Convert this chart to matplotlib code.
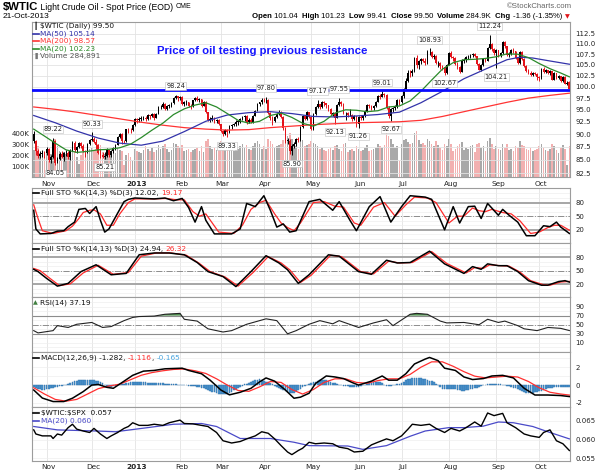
import numpy as np
import pandas as pd
import matplotlib
matplotlib.use("Agg")
import matplotlib.pyplot as plt
import matplotlib.transforms as mtransforms
from matplotlib.ticker import FixedLocator, FixedFormatter, NullLocator

plt.rcParams['font.family'] = ['DejaVu Sans']

# ---------------- data ----------------
holidays = ['2012-10-29', '2012-10-30', '2012-11-22', '2012-12-25', '2013-01-01',
            '2013-01-21', '2013-02-18', '2013-03-29', '2013-05-27', '2013-07-04', '2013-09-02']

opens = [90.0, 88.7, 86.7, 85.7, 86.1, 86.3,
         86.2, 87.1, 84.9, 85.6, 88.7, 84.4, 85.1, 86.1, 85.6, 86.3, 86.3, 85.5, 86.7, 88.3, 86.8, 87.4, 88.3, 87.7, 86.7, 86.5, 88.1,
         88.9, 89.1, 88.5, 87.9, 86.3, 86.0, 85.6, 85.8, 86.8, 85.9, 86.7, 87.2, 87.9, 89.5, 90.1, 88.7, 88.6, 91.0, 90.9, 90.8,
         91.8, 93.1, 92.9, 93.1, 93.2, 93.2, 93.1, 93.8, 93.6, 94.1, 93.3, 94.2, 95.5, 95.6, 96.2, 95.2, 95.9, 95.9, 96.4, 97.6, 97.9,
         97.5, 97.8, 96.2, 96.6, 96.6, 95.8, 95.7, 97.0, 97.5, 97.0, 97.3, 95.9, 96.7, 94.5, 92.8, 93.1, 93.1, 92.6, 92.8,
         92.0, 90.7, 90.1, 90.8, 90.4, 91.6, 91.9, 92.1, 92.5, 92.5, 93.0, 93.5, 93.7, 92.4, 92.9, 92.5, 93.7, 94.8, 96.3, 96.6,
         97.2, 97.1, 97.2, 94.4, 93.3, 92.7, 93.4, 94.2, 94.6, 93.5, 91.3, 88.7, 88.7, 86.7, 87.7, 88.0, 89.0, 88.8, 91.4, 93.6, 93.0, 94.5,
         93.5, 91.0, 94.2, 95.6, 96.2, 95.6, 96.6, 96.4, 96.0, 95.2, 94.2, 94.3, 93.3, 96.0, 96.7, 96.2, 94.3, 94.3, 93.8, 94.0, 93.1, 93.6,
         92.0, 93.5, 93.3, 93.7, 94.8, 96.0, 95.8, 95.4, 95.9, 96.7, 97.9, 97.8, 98.4, 98.2, 95.4, 93.7, 95.2, 95.3, 95.5, 97.1,
         96.6, 98.0, 99.6, 101.2, 103.2, 103.1, 103.5, 106.5, 104.9, 105.9, 106.3, 106.0, 105.4, 108.0, 108.1, 106.9, 107.2, 105.4, 105.5, 104.7, 104.6, 103.1,
         105.0, 107.9, 106.9, 106.6, 105.3, 104.4, 103.4, 106.0, 106.1, 106.8, 106.9, 107.3, 107.5, 107.1, 105.1, 103.9, 105.0, 106.4, 105.9, 109.0, 110.1, 108.8,
         107.7, 108.5, 107.2, 107.7, 110.5, 109.5, 107.4, 107.6, 108.6, 108.2, 106.6, 105.4, 108.1, 106.4, 104.7, 103.6, 103.1, 102.7, 103.0, 102.9,
         102.3, 101.9, 104.1, 103.3, 103.8, 103.0, 103.5, 101.6, 103.0, 102.0, 102.4, 101.2, 102.3, 100.7, 101.04]

highs = [90.6, 88.9, 87.0, 86.6, 86.9, 86.7,
         87.4, 87.3, 85.9, 89.22, 88.9, 85.6, 86.5, 86.6, 86.5, 86.9, 86.7, 87.0, 88.7, 88.6, 87.7, 88.4, 88.4, 88.1, 86.9, 88.3, 89.0,
         90.33, 89.5, 89.0, 88.0, 87.0, 86.4, 86.4, 87.2, 86.9, 86.9, 87.4, 88.0, 89.7, 90.3, 90.2, 88.9, 91.1, 91.3, 91.2, 92.0,
         93.3, 93.3, 93.4, 93.6, 93.6, 93.6, 94.1, 94.0, 94.4, 94.3, 94.4, 95.7, 96.0, 96.6, 96.4, 96.1, 96.2, 96.6, 97.8, 98.24, 98.0,
         98.0, 97.9, 96.8, 97.0, 96.7, 96.2, 97.1, 97.8, 97.9, 97.5, 97.4, 96.9, 96.9, 94.6, 93.4, 93.8, 93.4, 93.1, 93.0,
         92.1, 90.8, 91.0, 91.1, 91.8, 92.1, 92.3, 92.8, 92.8, 93.3, 93.7, 94.0, 93.8, 93.2, 93.2, 93.8, 95.0, 96.4, 96.7, 97.6,
         97.6, 97.80, 97.3, 94.6, 93.6, 93.6, 94.4, 94.9, 94.7, 93.6, 91.4, 89.3, 89.0, 88.0, 88.4, 89.2, 89.4, 91.6, 93.8, 93.7, 94.7, 94.6,
         93.6, 94.4, 95.9, 97.17, 96.3, 96.8, 96.9, 96.5, 96.1, 95.3, 94.6, 94.4, 96.2, 97.55, 96.9, 96.4, 94.6, 94.5, 95.2, 94.1, 93.9, 93.7,
         93.6, 93.8, 94.0, 94.9, 96.2, 96.3, 96.0, 96.1, 96.8, 98.1, 98.5, 99.01, 98.7, 98.3, 95.7, 95.4, 95.6, 96.0, 97.3, 97.4,
         98.1, 99.8, 101.9, 103.9, 103.7, 104.1, 106.8, 107.3, 106.1, 106.5, 106.6, 106.7, 108.5, 108.93, 108.3, 107.6, 107.4, 105.9, 105.7, 105.0, 104.7, 105.3,
         108.0, 108.2, 107.2, 106.9, 105.6, 104.7, 106.3, 106.5, 107.0, 107.4, 107.6, 107.9, 107.8, 107.2, 105.4, 105.2, 106.6, 106.7, 109.3, 112.24, 110.3, 109.0,
         108.8, 108.6, 108.1, 110.7, 110.6, 109.6, 108.0, 108.8, 108.9, 108.4, 106.8, 108.3, 108.2, 106.6, 104.9, 104.0, 103.6, 103.4, 103.4, 103.0,
         102.5, 104.3, 104.5, 104.0, 103.9, 103.7, 103.6, 103.3, 103.2, 102.6, 102.5, 102.5, 102.4, 101.2, 101.23]

lows = [88.3, 85.9, 85.4, 85.3, 85.6, 85.3,
        85.9, 84.6, 84.3, 85.4, 84.05, 84.3, 84.9, 85.3, 84.7, 85.7, 85.1, 84.9, 86.6, 86.5, 86.3, 87.2, 87.2, 86.5, 85.6, 86.3, 87.9,
        88.6, 88.2, 87.1, 86.1, 85.4, 85.3, 85.21, 85.6, 85.6, 85.5, 86.3, 86.9, 87.8, 89.2, 88.1, 88.2, 88.5, 90.3, 90.2, 90.6,
        91.7, 92.2, 92.5, 92.6, 92.8, 92.6, 92.9, 93.0, 93.4, 92.9, 93.2, 94.1, 95.1, 95.4, 94.9, 94.9, 95.3, 95.5, 96.2, 97.3, 96.9,
        97.2, 96.0, 95.9, 96.1, 95.6, 95.1, 95.5, 96.8, 96.8, 96.7, 95.6, 95.7, 94.3, 92.6, 92.4, 92.7, 92.3, 92.3, 91.8,
        90.4, 89.6, 89.9, 89.33, 90.3, 91.0, 91.6, 91.7, 91.9, 92.3, 92.8, 92.6, 92.1, 92.2, 92.2, 92.3, 93.6, 94.7, 95.8, 96.3,
        96.7, 96.5, 94.2, 92.9, 91.9, 92.4, 93.2, 93.8, 93.3, 90.8, 88.3, 88.0, 86.1, 85.90, 87.3, 87.6, 88.4, 88.7, 91.3, 92.8, 92.9, 93.3,
        90.8, 90.9, 94.0, 95.3, 95.2, 95.3, 95.8, 95.3, 94.8, 93.9, 93.7, 92.13, 93.2, 95.8, 95.8, 94.1, 92.8, 93.4, 93.6, 92.7, 92.8, 91.5,
        91.26, 92.9, 92.8, 93.5, 94.6, 95.3, 94.9, 95.0, 95.5, 96.6, 97.3, 97.7, 97.8, 95.1, 93.2, 92.67, 94.6, 94.9, 95.4, 96.1,
        96.4, 97.6, 99.4, 101.0, 102.3, 102.4, 103.3, 104.3, 104.0, 105.2, 105.6, 105.0, 105.3, 107.4, 106.6, 106.3, 105.1, 104.5, 104.1, 103.9, 102.67, 102.9,
        104.9, 106.5, 106.0, 104.9, 104.1, 103.0, 103.3, 105.4, 105.7, 106.3, 106.5, 106.9, 106.8, 104.9, 103.7, 103.6, 104.8, 105.6, 105.8, 108.8, 108.4, 107.3,
        104.21, 106.9, 106.8, 107.5, 109.1, 107.1, 106.9, 107.4, 107.8, 106.3, 105.2, 105.2, 106.1, 104.5, 103.4, 102.9, 102.5, 102.4, 102.6, 101.6,
        101.3, 101.8, 103.1, 103.0, 102.8, 102.6, 101.4, 101.5, 101.8, 101.7, 101.0, 101.1, 100.6, 100.5, 99.41]

closes = [88.7, 86.7, 85.7, 86.1, 86.3, 86.2,
          87.1, 84.9, 85.6, 88.7, 84.4, 85.1, 86.1, 85.6, 86.3, 86.3, 85.5, 86.7, 88.3, 86.8, 87.4, 88.3, 87.7, 86.7, 86.5, 88.1, 88.9,
          89.1, 88.5, 87.9, 86.3, 86.0, 85.6, 85.8, 86.8, 85.9, 86.7, 87.2, 87.9, 89.5, 90.1, 88.7, 88.6, 91.0, 90.9, 90.8, 91.8,
          93.1, 92.9, 93.1, 93.2, 93.2, 93.1, 93.8, 93.6, 94.1, 93.3, 94.2, 95.5, 95.6, 96.2, 95.2, 95.9, 95.9, 96.4, 97.6, 97.9, 97.5,
          97.8, 96.2, 96.6, 96.6, 95.8, 95.7, 97.0, 97.5, 97.0, 97.3, 95.9, 96.7, 94.5, 92.8, 93.1, 93.1, 92.6, 92.8, 92.0,
          90.7, 90.1, 90.8, 90.4, 91.6, 91.9, 92.1, 92.5, 92.5, 93.0, 93.5, 93.7, 92.4, 92.9, 92.5, 93.7, 94.8, 96.3, 96.6, 97.2,
          97.1, 97.2, 94.4, 93.3, 92.7, 93.4, 94.2, 94.6, 93.5, 91.3, 88.7, 88.7, 86.7, 87.7, 88.0, 89.0, 88.8, 91.4, 93.6, 93.0, 94.5, 93.5,
          91.0, 94.2, 95.6, 96.2, 95.6, 96.6, 96.4, 96.0, 95.2, 94.2, 94.3, 93.3, 96.0, 96.7, 96.2, 94.3, 94.3, 93.8, 94.0, 93.1, 93.6, 92.0,
          93.5, 93.3, 93.7, 94.8, 96.0, 95.8, 95.4, 95.9, 96.7, 97.9, 97.8, 98.4, 98.2, 95.4, 93.7, 95.2, 95.3, 95.5, 97.1, 96.6,
          98.0, 99.6, 101.2, 103.2, 103.1, 103.5, 106.5, 104.9, 105.9, 106.3, 106.0, 105.4, 108.0, 108.1, 106.9, 107.2, 105.4, 105.5, 104.7, 104.6, 103.1, 105.0,
          107.9, 106.9, 106.6, 105.3, 104.4, 103.4, 106.0, 106.1, 106.8, 106.9, 107.3, 107.5, 107.1, 105.1, 103.9, 105.0, 106.4, 105.9, 109.0, 110.1, 108.8, 107.7,
          108.5, 107.2, 107.7, 110.5, 109.5, 107.4, 107.6, 108.6, 108.2, 106.6, 105.4, 108.1, 106.4, 104.7, 103.6, 103.1, 102.7, 103.0, 102.9, 102.3,
          101.9, 104.1, 103.3, 103.8, 103.0, 103.5, 101.6, 103.0, 102.0, 102.4, 101.2, 102.3, 100.7, 100.86, 99.5]

volume_k = [250, 300, 280, 220, 200, 180,
            230, 260, 210, 300, 350, 280, 240, 200, 230, 210, 220, 190, 250, 240, 180, 120, 200, 230, 210, 240, 260,
            270, 250, 260, 300, 290, 230, 210, 250, 240, 200, 230, 220, 270, 250, 240, 110, 200, 220, 180, 150,
            260, 240, 230, 220, 250, 280, 260, 240, 270, 230, 250, 290, 260, 280, 300, 260, 230, 250, 310, 300, 280,
            270, 290, 240, 250, 260, 230, 250, 260, 270, 240, 280, 230, 330, 350, 280, 260, 270, 250, 300,
            330, 300, 280, 260, 290, 270, 240, 250, 260, 280, 300, 270, 290, 260, 250, 280, 310, 330, 300, 260,
            280, 260, 350, 330, 300, 270, 280, 290, 300, 340, 420, 380, 400, 350, 300, 280, 260, 330, 340, 280, 290, 300,
            330, 310, 300, 280, 260, 270, 250, 240, 260, 270, 250, 280, 290, 260, 240, 300, 310, 230, 250, 260, 240, 280,
            260, 240, 250, 270, 290, 240, 250, 260, 270, 300, 280, 270, 290, 420, 380, 350, 300, 270, 280, 150,
            300, 340, 350, 320, 300, 310, 400, 420, 340, 300, 310, 290, 350, 330, 300, 280, 330, 290, 270, 250, 300, 280,
            350, 300, 240, 260, 280, 300, 320, 250, 270, 260, 280, 290, 230, 300, 310, 270, 280, 240, 330, 360, 300, 260,
            280, 260, 250, 300, 270, 300, 250, 260, 240, 280, 270, 330, 290, 280, 260, 250, 270, 240, 250, 260,
            280, 300, 270, 250, 240, 260, 300, 280, 250, 220, 270, 290, 260, 110, 284.891]

# moving averages (readings at trading-day index)
ma20_days = list(range(0, 250, 5)) + [249]
ma20_vals = [91.0, 89.6, 88.2, 86.9, 86.4, 86.6, 86.9, 87.0, 87.3, 88.0,
             89.3, 90.8, 92.2, 94.0, 95.2, 96.0, 96.5, 95.6, 94.2, 92.8,
             92.2, 92.6, 93.8, 94.3, 93.4, 92.2, 91.6, 92.6, 94.3, 95.0,
             94.9, 94.6, 94.8, 95.6, 95.8, 96.9, 99.0, 101.5, 104.0, 105.5,
             106.2, 106.3, 106.5, 106.9, 107.6, 107.5, 106.7, 105.3, 104.1, 103.1, 102.23]
ma50_days = [0, 10, 20, 30, 40, 50, 60, 70, 80, 90, 100, 110, 120, 130, 140, 150, 160, 170, 180, 190, 200, 210, 220, 226, 232, 240, 249]
ma50_vals = [93.8, 92.3, 90.6, 89.2, 88.2, 87.8, 88.6, 90.5, 92.6, 93.9, 94.4, 94.6, 94.2, 93.6, 93.5, 93.7, 94.0, 94.5, 96.5, 99.0, 101.8, 104.0, 106.2, 106.8, 106.6, 105.9, 105.14]
ma200_days = list(range(0, 250, 10)) + [249]
ma200_vals = [95.6, 95.1, 94.5, 93.8, 93.1, 92.4, 91.8, 91.3, 91.0, 90.8, 90.9, 91.3, 91.6, 91.9, 92.1, 92.3, 92.4, 92.5, 92.8, 93.6, 94.6, 95.6, 96.6, 97.5, 98.1, 98.57]
resistance = 99.25

peak_days = [9, 10, 27, 33, 66, 90, 108, 120, 132, 140, 142, 151, 162, 166, 184, 191, 212, 215]
peak_vals = [89.22, 84.05, 90.33, 85.21, 98.24, 89.33, 97.80, 85.90, 97.17, 92.13, 97.55, 91.26, 99.01, 92.67, 108.93, 102.67, 112.24, 104.21]
peak_up = [1, 0, 1, 0, 1, 0, 1, 0, 1, 0, 1, 0, 1, 0, 1, 0, 1, 0]

sto1_k_days = [0, 1, 3, 8, 11, 14, 16, 19, 21, 24, 26, 29, 31, 33, 35, 38, 42, 44, 47, 56, 61, 65, 69, 72, 75, 78, 80, 84, 92, 96,
               99, 103, 107, 110, 113, 116, 119, 122, 128, 133, 139, 142, 147, 150, 156, 161, 166, 171, 175, 182, 185, 191, 195, 198,
               202, 205, 208, 211, 216, 218, 221, 225, 229, 233, 237, 240, 243, 245, 249]
sto1_k_vals = [63, 22, 11, 12, 17, 18, 27, 37, 65, 67, 56, 71, 41, 15, 22, 48, 82, 87, 90, 88, 90, 84, 89, 69, 37, 71, 41, 11, 11, 22,
               78, 71, 95, 63, 26, 33, 15, 18, 82, 87, 63, 82, 41, 18, 71, 93, 37, 71, 95, 92, 87, 20, 71, 35,
               71, 72, 45, 78, 52, 65, 52, 37, 7, 7, 29, 27, 37, 26, 12.02]
sto1_d_days = [0, 2, 4, 9, 12, 15, 18, 21, 23, 26, 28, 31, 34, 37, 40, 44, 47, 56, 62, 66, 70, 74, 77, 80, 83, 86, 93, 97, 101, 105,
               108, 112, 115, 118, 121, 124, 130, 135, 140, 144, 149, 152, 158, 163, 168, 173, 177, 183, 187, 193, 197, 200, 204, 207,
               210, 213, 218, 222, 226, 231, 235, 239, 242, 245, 249]
sto1_d_vals = [75, 45, 18, 12, 15, 18, 28, 45, 58, 63, 64, 55, 30, 30, 55, 80, 88, 88, 89, 86, 86, 60, 50, 55, 35, 15, 12, 30, 65, 80,
               85, 55, 35, 25, 18, 35, 80, 82, 72, 70, 35, 30, 70, 80, 50, 75, 92, 90, 80, 35, 50, 50, 68, 62,
               60, 65, 58, 55, 40, 12, 15, 25, 30, 30, 19.17]

sto2_k_days = [0, 2, 6, 11, 16, 22, 29, 36, 43, 49, 56, 63, 70, 76, 81, 88, 94, 101, 108, 114, 118, 123, 128, 137, 142, 151, 157, 164,
               169, 175, 184, 191, 200, 204, 208, 211, 216, 220, 225, 230, 236, 239, 244, 247, 249]
sto2_k_vals = [53, 48, 33, 16, 22, 48, 63, 41, 44, 85, 89, 89, 85, 68, 48, 37, 15, 48, 83, 67, 52, 22, 41, 85, 82, 48, 42, 73,
               67, 68, 93, 65, 44, 59, 53, 65, 61, 61, 48, 28, 18, 18, 26, 28, 24.94]
sto2_d_days = [0, 3, 7, 12, 17, 23, 30, 37, 44, 50, 57, 64, 71, 77, 82, 89, 95, 102, 109, 115, 119, 124, 129, 138, 143, 152, 158, 165,
               170, 176, 185, 192, 201, 205, 209, 212, 217, 221, 226, 231, 237, 240, 245, 249]
sto2_d_vals = [55, 50, 35, 17, 21, 45, 62, 42, 46, 82, 89, 89, 84, 66, 48, 36, 16, 46, 81, 67, 52, 24, 40, 84, 81, 48, 43, 71,
               67, 68, 92, 66, 45, 57, 55, 63, 61, 60, 47, 28, 19, 18, 25, 26.32]

rsi_days = [0, 2, 9, 11, 16, 20, 27, 32, 36, 42, 46, 49, 56, 61, 68, 70, 76, 81, 88, 92, 99, 108, 113, 118, 122, 128, 133, 139, 142,
            151, 158, 164, 167, 175, 178, 183, 189, 192, 200, 207, 211, 216, 219, 225, 228, 234, 239, 245, 249]
rsi_vals = [37, 32, 37, 48, 44, 51, 55, 44, 46, 59, 66, 68, 69, 73, 75, 62, 58, 41, 34, 37, 51, 63, 59, 30, 37, 51, 59, 52, 59,
            44, 54, 61, 48, 73, 75, 73, 58, 54, 55, 50, 62, 55, 58, 48, 41, 37, 44, 42, 37.19]

macd_days = [0, 4, 9, 14, 18, 23, 27, 30, 34, 37, 42, 46, 51, 56, 61, 69, 72, 78, 82, 87, 91, 96, 101, 105, 108, 112, 117, 121, 124,
             128, 131, 136, 140, 144, 148, 151, 157, 162, 165, 169, 173, 177, 182, 184, 188, 191, 196, 200, 204, 209, 213, 218, 223,
             228, 233, 239, 245, 249]
macd_vals = [-0.55, -1.45, -1.84, -1.84, -1.47, -0.73, 0.0, 0.07, -0.25, -0.36, 0.44, 1.09, 1.56, 1.64, 1.82, 1.89, 1.64, 1.27, 0.55,
             -0.55, -1.09, -0.8, -0.36, 0.36, 0.8, 0.44, -0.55, -1.47, -1.35, -0.91, 0.18, 1.02, 0.91, 0.73, 0.29, 0.0, 0.44, 1.02,
             0.55, 0.55, 1.27, 2.36, 2.91, 3.09, 2.73, 1.89, 1.64, 0.91, 0.62, 0.73, 1.02, 1.09, 0.8, -0.36, -1.11, -1.11, -1.17, -1.282]
signal_days = list(range(0, 250, 5)) + [249]
signal_vals = [-0.3, -1.0, -1.6, -1.8, -1.6, -1.0, -0.4, -0.1, 0.1, 0.6,
               1.1, 1.4, 1.6, 1.75, 1.8, 1.6, 1.3, 0.7, 0.0, -0.6,
               -0.7, -0.2, 0.4, 0.3, -0.5, -1.0, -0.5, 0.3, 0.7, 0.7,
               0.3, 0.2, 0.5, 0.7, 0.7, 1.2, 2.0, 2.6, 2.6, 2.1,
               1.5, 1.0, 0.8, 0.9, 1.0, 0.9, 0.4, -0.3, -0.8, -1.0, -1.116]
macd_hist = [-0.25, -0.32, -0.4, -0.46, -0.5, -0.5, -0.48, -0.42, -0.36, -0.3,
             -0.24, -0.18, -0.12, -0.06, 0.0, 0.0, 0.1, 0.22, 0.32, 0.42,
             0.5, 0.55, 0.58, 0.6, 0.6, 0.6, 0.58, 0.55, 0.52, 0.5,
             0.47, 0.35, 0.2, 0.05, -0.1, -0.2, -0.18, -0.12, -0.05, 0.0,
             0.05, 0.1, 0.16, 0.22, 0.27, 0.3, 0.33, 0.36, 0.38, 0.4,
             0.4, 0.37, 0.32, 0.28, 0.25, 0.22, 0.21, 0.2, 0.19, 0.18,
             0.18, 0.16, 0.14, 0.12, 0.11, 0.1, 0.08, 0.06, 0.04, 0.02,
             0.0, -0.03, -0.06, -0.1, -0.12, -0.15, -0.2, -0.26, -0.32, -0.36,
             -0.4, -0.5, -0.62, -0.72, -0.82, -0.9, -0.95, -0.98, -1.0, -1.0,
             -1.0, -0.9, -0.75, -0.6, -0.45, -0.3, -0.18, -0.05, 0.07, 0.16,
             0.25, 0.35, 0.45, 0.55, 0.6, 0.65, 0.6, 0.5, 0.4, 0.3,
             0.2, 0.1, -0.05, -0.18, -0.3, -0.4, -0.52, -0.64, -0.76, -0.85,
             -0.9, -0.85, -0.7, -0.55, -0.4, -0.25, -0.12, 0.0, 0.12, 0.22,
             0.3, 0.4, 0.48, 0.55, 0.58, 0.6, 0.52, 0.42, 0.35, 0.28,
             0.22, 0.14, 0.06, 0.0, -0.06, -0.1, -0.15, -0.2, -0.23, -0.25,
             -0.25, -0.18, -0.1, 0.0, 0.05, 0.1, 0.18, 0.25, 0.32, 0.37,
             0.4, 0.3, 0.18, 0.05, -0.05, -0.1, -0.05, 0.0, 0.05, 0.08,
             0.1, 0.25, 0.4, 0.55, 0.65, 0.7, 0.75, 0.8, 0.8, 0.78,
             0.75, 0.7, 0.63, 0.55, 0.5, 0.45, 0.3, 0.15, 0.0, -0.2,
             -0.4, -0.42, -0.44, -0.42, -0.4, -0.4, -0.45, -0.52, -0.58, -0.62,
             -0.65, -0.6, -0.52, -0.45, -0.4, -0.35, -0.27, -0.18, -0.1, -0.02,
             0.05, 0.08, 0.12, 0.14, 0.15, 0.15, 0.12, 0.08, 0.04, 0.0,
             -0.05, -0.12, -0.2, -0.28, -0.34, -0.4, -0.52, -0.64, -0.76, -0.86,
             -0.9, -0.88, -0.84, -0.8, -0.75, -0.7, -0.62, -0.52, -0.42, -0.35,
             -0.3, -0.27, -0.24, -0.21, -0.19, -0.17, -0.16, -0.16, -0.17, -0.165]

ratio_days = [0, 1, 4, 8, 9, 11, 13, 16, 18, 20, 23, 26, 28, 31, 34, 36, 39, 42, 44, 46, 49, 53, 56, 60, 63, 68, 70, 74, 78, 81,
              85, 88, 92, 96, 99, 103, 106, 109, 112, 115, 118, 120, 123, 125, 128, 131, 135, 139, 142, 146, 149, 153, 157, 160,
              164, 167, 171, 174, 176, 180, 184, 187, 191, 194, 198, 201, 205, 208, 211, 214, 218, 220, 224, 228, 231, 235, 237,
              240, 243, 246, 249]
ratio_vals = [0.0626, 0.0615, 0.0610, 0.0610, 0.0603, 0.0615, 0.0612, 0.0632, 0.0641, 0.0628, 0.0623, 0.0619, 0.0630, 0.0615,
              0.0603, 0.0610, 0.0619, 0.0630, 0.0635, 0.0645, 0.0638, 0.0638, 0.0641, 0.0638, 0.0645, 0.0652, 0.0643, 0.0642,
              0.0638, 0.0635, 0.0619, 0.0597, 0.0591, 0.0595, 0.0602, 0.0610, 0.0621, 0.0617, 0.0602, 0.0584, 0.0567, 0.0560,
              0.0571, 0.0577, 0.0593, 0.0589, 0.0591, 0.0589, 0.0580, 0.0576, 0.0567, 0.0569, 0.0586, 0.0593, 0.0602, 0.0597,
              0.0610, 0.0628, 0.0641, 0.0638, 0.0641, 0.0630, 0.0619, 0.0630, 0.0623, 0.0632, 0.0647, 0.0636, 0.0671, 0.0664,
              0.0670, 0.0645, 0.0632, 0.0615, 0.0610, 0.0606, 0.0619, 0.0626, 0.0597, 0.0589, 0.0571]
ratio_ma_days = [0, 11, 29, 38, 53, 65, 78, 85, 96, 110, 121, 128, 146, 153, 164, 175, 182, 193, 200, 209, 216, 223, 232, 239, 249]
ratio_ma_vals = [0.0635, 0.0626, 0.0623, 0.0621, 0.0632, 0.0641, 0.0643, 0.0635, 0.0603, 0.0603, 0.0593, 0.0584, 0.0583, 0.0574,
                 0.0584, 0.0609, 0.0623, 0.0632, 0.0632, 0.0636, 0.0647, 0.0645, 0.0635, 0.0621, 0.0602]

price_ticks = [82.5, 85.0, 87.5, 90.0, 92.5, 95.0, 97.5, 100.0, 102.5, 105.0, 107.5, 110.0, 112.5]
vol_ticks = [100, 200, 300, 400]

# ---------------- layout ----------------
W, H = 605, 475
fig = plt.figure(figsize=(W / 100, H / 100), dpi=100)
fig.patch.set_facecolor('white')


def rect(l, t, r, b):
    return [l / W, 1 - b / H, (r - l) / W, (b - t) / H]


dates = pd.bdate_range('2012-10-22', '2013-10-21')
dates = dates[~dates.isin(pd.to_datetime(holidays))]
n = len(closes)
dates = dates[:n]
x = np.arange(n)
xmin, xmax = -0.8, n - 0.7

month_idx, month_lab = [], []
for i in range(1, n):
    if dates[i].month != dates[i - 1].month:
        month_idx.append(i)
        month_lab.append('2013' if dates[i].month == 1 else dates[i].strftime('%b'))

GRID = '#e3e3e3'
SPINE = '#9c9c9c'
LBL = 5.0


def style(ax):
    ax.set_xlim(xmin, xmax)
    ax.set_xticks([])
    for s in ax.spines.values():
        s.set_color(SPINE)
        s.set_linewidth(0.8)
    ax.yaxis.tick_right()
    ax.tick_params(axis='y', which='both', length=0, pad=4, labelsize=LBL, colors='#222222')
    for m in month_idx:
        ax.axvline(m, color=GRID, lw=0.6, zorder=0)


# ---------- main price panel ----------
ax_v = fig.add_axes(rect(32, 22, 570, 177))
ax_v.set_xlim(xmin, xmax)
ax_v.set_ylim(0, 1420)
ax_v.set_xticks([])
for s in ax_v.spines.values():
    s.set_visible(False)
ax_v.yaxis.set_ticks_position('left')
ax_v.set_yticks(vol_ticks)
ax_v.set_yticklabels(['%dK' % v for v in vol_ticks])
ax_v.tick_params(axis='y', length=0, pad=2, labelsize=LBL, colors='#222222')
prev = np.r_[closes[0], closes[:-1]]
c_arr = np.array(closes)
up = c_arr >= prev
vcol = np.where(up, '#a9a9a9', '#f2b0b0')
ax_v.bar(x, volume_k, width=0.75, color=vcol, linewidth=0, zorder=1)

ax = fig.add_axes(rect(32, 22, 570, 177))
ax.set_zorder(ax_v.get_zorder() + 1)
ax.patch.set_visible(False)
style(ax)
ax.set_yscale('log')
ax.set_ylim(81.8, 115.5)
ax.yaxis.set_major_locator(FixedLocator(price_ticks))
ax.yaxis.set_major_formatter(FixedFormatter(['%.1f' % p for p in price_ticks]))
ax.yaxis.set_minor_locator(NullLocator())
for p in price_ticks:
    ax.axhline(p, color=GRID, lw=0.6, zorder=0)

o_arr, h_arr, l_arr = np.array(opens), np.array(highs), np.array(lows)
ccol = np.where(up, '#000000', '#e3141b')
ax.vlines(x, l_arr, h_arr, colors=ccol, lw=0.7, zorder=3)
body_lo = np.minimum(o_arr, c_arr)
body_h = np.maximum(np.abs(c_arr - o_arr), 0.08)
ax.bar(x, body_h, bottom=body_lo, width=0.8, color=ccol, linewidth=0, zorder=3)

ax.plot(ma200_days, ma200_vals, color='#ff3333', lw=0.9, zorder=4)
ax.plot(ma50_days, ma50_vals, color='#3333aa', lw=0.9, zorder=4)
ax.plot(ma20_days, ma20_vals, color='#2a8a2a', lw=0.9, zorder=4)
ax.axhline(resistance, color='#0a0aff', lw=2.0, zorder=5)

for d, v, u in zip(peak_days, peak_vals, peak_up):
    ax.annotate('%.2f' % v, xy=(d, v), xytext=(0, 4 if u else -4), textcoords='offset points',
                ha='center', va='bottom' if u else 'top', fontsize=4.8, color='#222222', zorder=6,
                bbox=dict(boxstyle='square,pad=0.12', fc='white', ec='#bdbdbd', lw=0.4))

fig.text(157 / W, 1 - 51 / H, 'Price of oil testing previous resistance', color='#1515ff',
         fontsize=8.2, fontweight='bold', family='Liberation Sans', va='center', ha='left')


# ---------- date labels ----------
def date_labels(ax_ref, ypx):
    tr = mtransforms.blended_transform_factory(ax_ref.transData, fig.transFigure)
    for m, lab in zip(month_idx, month_lab):
        ax_ref.text(m + 0.8, 1 - ypx / H, lab, transform=tr, ha='center', va='center',
                    fontsize=5.3, color='#222222', fontweight='bold' if lab == '2013' else 'normal',
                    clip_on=False)


date_labels(ax, 184)


# ---------- STO panels ----------
def sto_panel(t, b, kd, kv, dd, dv, ylim):
    a = fig.add_axes(rect(32, t, 570, b))
    style(a)
    a.set_ylim(*ylim)
    for g in range(0, 101, 10):
        a.axhline(g, color='#eeeeee', lw=0.5, zorder=0)
    a.axhline(80, color='#a6a6a6', lw=1.4, zorder=1)
    a.axhline(20, color='#a6a6a6', lw=1.4, zorder=1)
    a.axhline(50, color='#8c8c8c', lw=0.7, ls='-.', zorder=1)
    a.set_yticks([20, 50, 80])
    a.plot(dd, dv, color='#ff2a2a', lw=0.9, zorder=3)
    a.plot(kd, kv, color='#000000', lw=1.1, zorder=4)
    return a


ax1 = sto_panel(188, 243, sto1_k_days, sto1_k_vals, sto1_d_days, sto1_d_vals, (-9, 112))
ax2 = sto_panel(243, 297, sto2_k_days, sto2_k_vals, sto2_d_days, sto2_d_vals, (-8, 111))

# ---------- RSI ----------
ax3 = fig.add_axes(rect(32, 297, 570, 352))
style(ax3)
ax3.set_ylim(-10, 111)
for g in range(0, 101, 10):
    ax3.axhline(g, color='#eeeeee', lw=0.5, zorder=0)
ax3.axhline(70, color='#8c8c8c', lw=0.8, zorder=1)
ax3.axhline(30, color='#8c8c8c', lw=0.8, zorder=1)
ax3.axhline(50, color='#8c8c8c', lw=0.7, ls='-.', zorder=1)
ax3.set_yticks([10, 30, 50, 70, 90])
rd, rv = np.array(rsi_days), np.array(rsi_vals, dtype=float)
ax3.fill_between(rd, rv, 70, where=rv >= 70, interpolate=True, color='#4f8f4f', lw=0, zorder=2)
ax3.plot(rd, rv, color='#222222', lw=0.8, zorder=3)

# ---------- MACD ----------
ax4 = fig.add_axes(rect(32, 352, 570, 407))
style(ax4)
ax4.set_ylim(-2.45, 3.7)
for g in [-2, -1, 0, 1, 2, 3]:
    ax4.axhline(g, color='#eeeeee', lw=0.5, zorder=0)
ax4.set_yticks([-2, 0, 2])
ax4.set_yticklabels(['-2', '0', '2'])
ax4.bar(x, macd_hist, width=0.8, color='#4c95cf', edgecolor='#2b6ea8', linewidth=0.3, zorder=2)
ax4.plot(signal_days, signal_vals, color='#ff3030', lw=0.9, zorder=3)
ax4.plot(macd_days, macd_vals, color='#000000', lw=1.1, zorder=4)

# ---------- ratio ----------
ax5 = fig.add_axes(rect(32, 407, 570, 461))
style(ax5)
ax5.set_ylim(0.0543, 0.0687)
for g in [0.055, 0.0575, 0.060, 0.0625, 0.065, 0.0675]:
    ax5.axhline(g, color='#eeeeee', lw=0.5, zorder=0)
ax5.set_yticks([0.055, 0.060, 0.065])
ax5.set_yticklabels(['0.055', '0.060', '0.065'])
ax5.plot(ratio_ma_days, ratio_ma_vals, color='#4a4ac8', lw=0.9, zorder=3)
ax5.plot(ratio_days, ratio_vals, color='#000000', lw=1.0, zorder=4)
date_labels(ax5, 467)

# ---------- texts ----------
fig.canvas.draw()
renderer = fig.canvas.get_renderer()


def seq(xp, yp, parts):
    for s, kw in parts:
        t = fig.text(xp / W, 1 - yp / H, s, va='center', ha='left', **kw)
        xp += t.get_window_extent(renderer).width
    return xp


F = 'DejaVu Sans'
seq(3, 7, [('\\$WTIC', dict(fontsize=8.2, fontweight='bold', family='Liberation Sans')),
           (' Light Crude Oil - Spot Price (EOD) ', dict(fontsize=6.2, family='Liberation Sans')),
           ('CME', dict(fontsize=5.0, family='Liberation Sans'))])
fig.text(3 / W, 1 - 16.5 / H, '21-Oct-2013', fontsize=6.0, family='Liberation Sans', va='center')
fig.text(572 / W, 1 - 6.5 / H, '\u00a9StockCharts.com', fontsize=5.6, family='Liberation Sans',
         color='#666666', va='center', ha='right')

hdr = [('Open ', dict(fontweight='bold')), ('101.04  ', {}), ('High ', dict(fontweight='bold')), ('101.23  ', {}),
       ('Low ', dict(fontweight='bold')), ('99.41  ', {}), ('Close ', dict(fontweight='bold')), ('99.50  ', {}),
       ('Volume ', dict(fontweight='bold')), ('284.9K  ', {}), ('Chg ', dict(fontweight='bold')), ('-1.36 (-1.35%)', {})]
hdr = [(s, dict(kw, fontsize=5.6, family='Liberation Sans')) for s, kw in hdr]
tot = 0
for s, kw in hdr:
    t = fig.text(0, 0, s, **kw)
    tot += t.get_window_extent(renderer).width
    t.remove()
seq(562 - tot, 16.5, hdr)
fig.text(567 / W, 1 - 16.5 / H, '\u25bc', fontsize=4.5, color='#e0161b', va='center', ha='center')


def legend_line(xp, yp, color, lw=1.2):
    fig.add_artist(plt.Line2D([xp / W, (xp + 6) / W], [1 - yp / H, 1 - yp / H], color=color, lw=lw))


LF = dict(fontsize=5.3, family=F)
fig.text(33 / W, 1 - 26 / H, '\u2503', fontsize=5, color='#000000', va='center')
seq(40, 26, [('\\$WTIC (Daily) 99.50', dict(LF, color='#111111'))])
legend_line(33, 33.5, '#3333aa')
seq(40, 33.5, [('MA(50) 105.14', dict(LF, color='#3333aa'))])
legend_line(33, 41, '#ff3333')
seq(40, 41, [('MA(200) 98.57', dict(LF, color='#ff3333'))])
legend_line(33, 48.5, '#2a8a2a')
seq(40, 48.5, [('MA(20) 102.23', dict(LF, color='#2a8a2a'))])
fig.text(33 / W, 1 - 56 / H, '\u2590', fontsize=4.5, color='#777777', va='center')
seq(40, 56, [('Volume 284,891', dict(LF, color='#555555'))])

legend_line(33, 193, '#000000')
seq(41, 193, [('Full STO %K(14,3) %D(3) 12.02, ', dict(LF, color='#111111')), ('19.17', dict(LF, color='#ff2a2a'))])
legend_line(33, 249, '#000000')
seq(41, 249, [('Full STO %K(14,13) %D(3) 24.94, ', dict(LF, color='#111111')), ('26.32', dict(LF, color='#ff2a2a'))])
fig.text(33 / W, 1 - 303 / H, '\u25b2', fontsize=4.5, color='#3f7f3f', va='center')
seq(40, 303, [('RSI(14) 37.19', dict(LF, color='#111111'))])
legend_line(33, 358, '#000000')
seq(41, 358, [('MACD(12,26,9) -1.282, ', dict(LF, color='#111111')), ('-1.116', dict(LF, color='#ff2a2a')),
              (', ', dict(LF, color='#111111')), ('-0.165', dict(LF, color='#4aa6e0'))])
legend_line(33, 413, '#000000')
seq(41, 413, [('\\$WTIC:\\$SPX  0.057', dict(LF, color='#111111'))])
legend_line(33, 420.5, '#4a4ac8')
seq(41, 420.5, [('MA(20) 0.060', dict(LF, color='#4a4ac8'))])

fig.savefig('out.png', dpi=100, facecolor='white')
